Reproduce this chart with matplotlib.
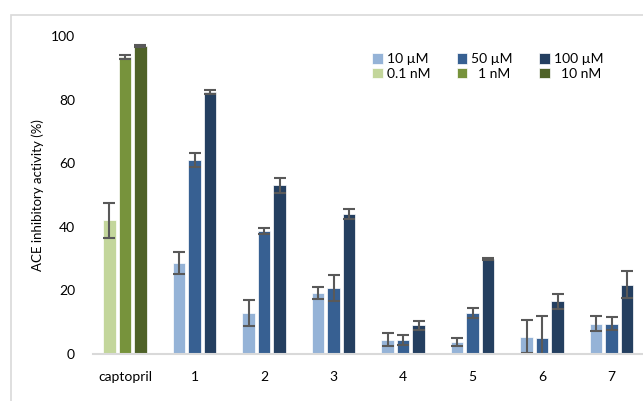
import numpy as np
import matplotlib
matplotlib.use("Agg")
import matplotlib.pyplot as plt
from matplotlib.patches import Rectangle

plt.rcParams["font.family"] = ["Lato", "DejaVu Sans"]

# ==========================
# DATA
# ==========================

groups = ["captopril", "1", "2", "3", "4", "5", "6", "7"]

series_labels = ["10 µM", "50 µM", "100 µM"]
control_labels = ["0.1 nM", "  1 nM", "  10 nM"]

# captopril concentrations (0.1 nM, 1 nM, 10 nM)
capto_vals = [42.0, 93.4, 96.9]
capto_err = [5.6, 0.5, 0.3]

# compounds 1-7
low_vals = [28.6, 12.9, 19.2, 4.5, 3.8, 5.5, 9.5]
low_err = [3.5, 4.0, 1.8, 2.0, 1.3, 5.3, 2.3]
mid_vals = [61.0, 38.7, 20.8, 4.4, 12.9, 5.1, 9.5]
mid_err = [2.2, 1.0, 4.0, 1.5, 1.7, 7.0, 2.0]
high_vals = [82.4, 53.0, 44.0, 9.0, 30.0, 16.6, 21.8]
high_err = [0.6, 2.3, 1.5, 1.5, 0.3, 2.3, 4.3]

blue_colors = ["#95B3D7", "#376092", "#243F60"]
green_colors = ["#C3D69B", "#77933C", "#4F6228"]

# ==========================
# PLOT
# ==========================

fig = plt.figure(figsize=(6.43, 4.01), dpi=100)
ax = fig.add_axes([93 / 643, 47 / 401, 550 / 643, 318 / 401])

width = 0.18
step = 0.223
offsets = [-step, 0, step]
err_kw = dict(ecolor="#595959", elinewidth=1.5, capsize=4, capthick=1.5)

x_cmp = np.arange(1, len(groups))

handles_blue = []
handles_green = []
for i in range(3):
    b = ax.bar(0 + offsets[i], capto_vals[i], width, color=green_colors[i],
               yerr=capto_err[i], error_kw=err_kw, edgecolor="white",
               linewidth=0.5, label=control_labels[i])
    handles_green.append(b)

for i, (vals, errs) in enumerate([(low_vals, low_err),
                                  (mid_vals, mid_err),
                                  (high_vals, high_err)]):
    b = ax.bar(x_cmp + offsets[i], vals, width, color=blue_colors[i],
               yerr=errs, error_kw=err_kw, edgecolor="white",
               linewidth=0.5, label=series_labels[i])
    handles_blue.append(b)

ax.set_xlim(-0.46, 7.45)
ax.set_ylim(0, 100)
ax.set_yticks(range(0, 101, 20))
ax.set_xticks(range(len(groups)))
ax.set_xticklabels(groups)

for s in ["top", "right", "left"]:
    ax.spines[s].set_visible(False)
ax.spines["bottom"].set_color("#D9D9D9")
ax.spines["bottom"].set_linewidth(1.5)
ax.tick_params(axis="both", length=0, labelsize=10, colors="black")
ax.tick_params(axis="y", pad=13)
ax.tick_params(axis="x", pad=12)

ax.set_ylabel("ACE inhibitory activity (%)", fontsize=9.5, labelpad=5)

# legend: column-major order for 2 rows x 3 cols
order = []
for i in range(3):
    order.append(handles_blue[i])
    order.append(handles_green[i])
labels = []
for i in range(3):
    labels.append(series_labels[i])
    labels.append(control_labels[i])

leg = ax.legend(
    order, labels,
    ncol=3,
    loc="upper left",
    bbox_to_anchor=(0.485, 0.985),
    frameon=False,
    fontsize=10,
    handlelength=0.75,
    handleheight=0.75,
    handletextpad=0.3,
    columnspacing=1.9,
    labelspacing=0.2,
)

# outer chart border
fig.patches.append(Rectangle((11 / 643, -0.1), 1.0, (401 - 15) / 401 + 0.1,
                             transform=fig.transFigure, fill=False,
                             edgecolor="#D9D9D9", linewidth=1.2))

fig.savefig("out.png", dpi=100)
